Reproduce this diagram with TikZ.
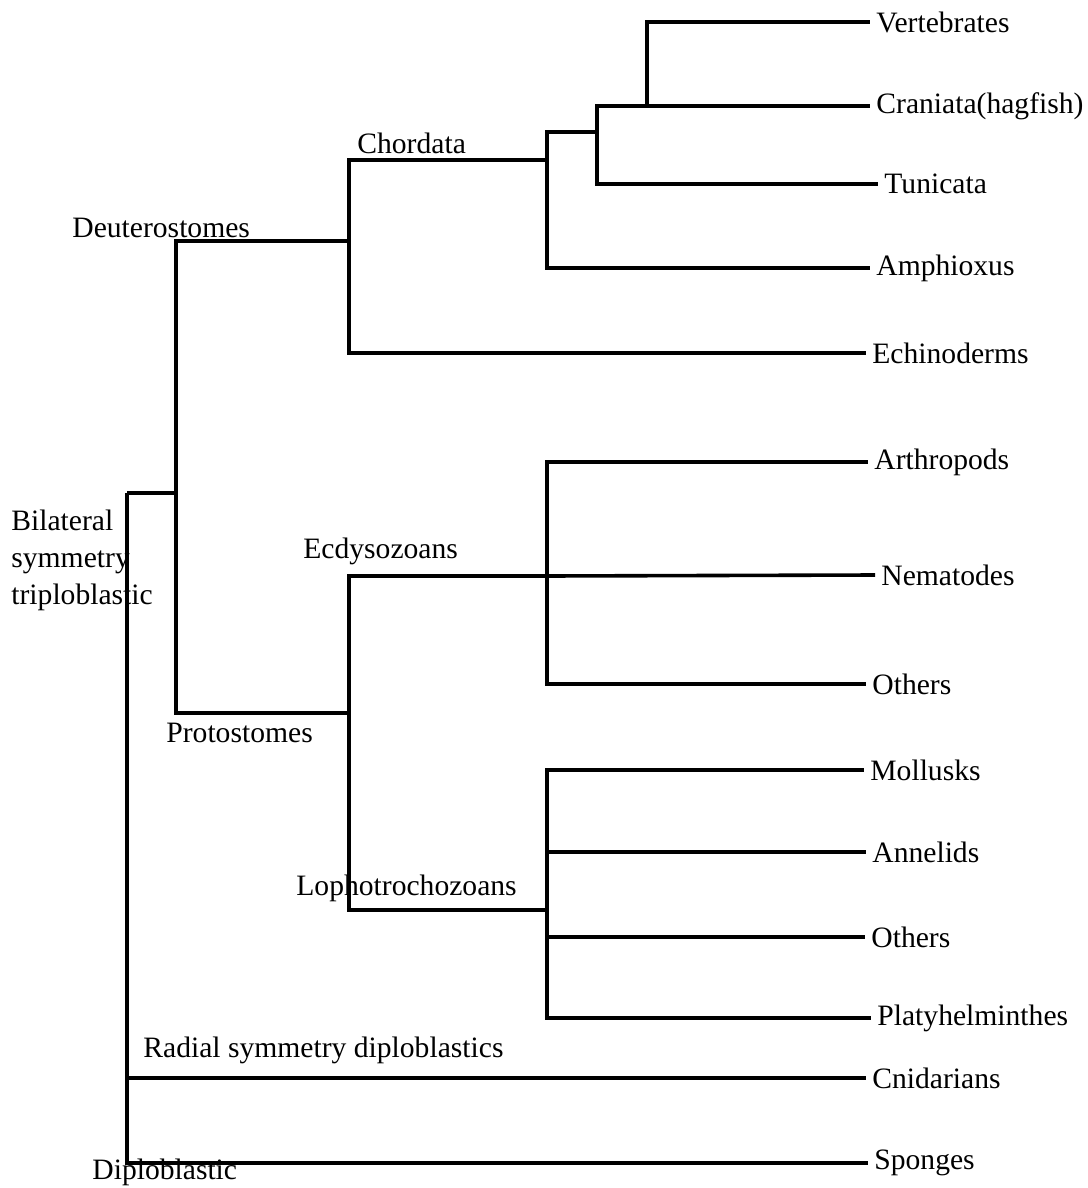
\documentclass[tikz,border=0pt]{standalone}
\usepackage{fontspec}
\setmainfont{Liberation Serif}
\usetikzlibrary{positioning}
\tikzset{
  branch/.style = {line width=1.8pt, line join=miter},
  leaf/.style = {anchor=west, inner ysep=0pt, inner xsep=3pt,
    font=\fontsize{14.8}{17}\selectfont},% feuille de l'arbre
  clade/.style = {anchor=west, inner sep=0pt,
    font=\fontsize{14.8}{18.5}\selectfont},% nom du clade
}

\begin{document}
\begin{tikzpicture}[x=0.5pt, y=-0.5pt]
\useasboundingbox (0,0) rectangle (1087,1188);
% branching points
\coordinate (root) at (127,493);
\coordinate (bil) at (176,493);
\coordinate (deu) at (349,241);
\coordinate (cho) at (547,160);
\coordinate (olf) at (597,132);
\coordinate (cra) at (647,104);
\coordinate (pro) at (349,713);
\coordinate (ecd) at (547,576);
\coordinate (lop) at (547,910);

% leaves
\node [leaf] (ver) at (870,22) {Vertebrates};
\node [leaf] (cran) at (870,106) {Craniata(hagfish)};
\node [leaf] (tun) at (878,184) {Tunicata};
\node [leaf] (amp) at (870,268) {Amphioxus};
\node [leaf] (ech) at (866,353) {Echinoderms};
\node [leaf] (art) at (868,462) {Arthropods};
\node [leaf] (nem) at (875,575) {Nematodes};
\node [leaf] (oth1) at (866,684) {Others};
\node [leaf] (mol) at (864,770) {Mollusks};
\node [leaf] (ann) at (866,852) {Annelids};
\node [leaf] (oth2) at (865,937) {Others};
\node [leaf] (pla) at (871,1018) {Platyhelminthes};
\node [leaf] (cni) at (866,1078) {Cnidarians};
\node [leaf] (spo) at (868,1163) {Sponges};

% clade names
\node [clade] (chordata) at (357,143) {Chordata};
\node [clade] (deutero) at (72,228) {Deuterostomes};
\node [clade] (ecdyso) at (303,551) {Ecdysozoans};
\node [clade] (proto) at (166,733) {Protostomes};
\node [clade] (lopho) at (296,888) {Lophotrochozoans};
\node [clade, align=left, anchor=north west] (bilat) at (11,510)
  {Bilateral\\symmetry\\triploblastic};
\node [clade] (radial) at (143,1050) {Radial symmetry diploblastics};
\node [clade] (diplo) at (92,1172) {Diploblastic};

% branches
\draw [branch] (cra) |- (ver.west);
\draw [branch] (olf) |- (cran.west);
\draw [branch] (olf) |- (tun.west);
\draw [branch] (cho) |- (olf);
\draw [branch] (cho) |- (amp.west);
\draw [branch] (deu) |- (cho);
\draw [branch] (deu) |- (ech.west);
\draw [branch] (bil) |- (deu);
\draw [branch] (bil) |- (pro);
\draw [branch] (ecd) |- (art.west);
\draw [branch] (ecd) -- (nem.west);
\draw [branch] (ecd) |- (oth1.west);
\draw [branch] (pro) |- (ecd);
\draw [branch] (pro) |- (lop);
\draw [branch] (lop) |- (mol.west);
\draw [branch] (lop) |- (ann.west);
\draw [branch] (lop) |- (oth2.west);
\draw [branch] (lop) |- (pla.west);
\draw [branch] (root) -- (bil);
\draw [branch] (root) |- (cni.west);
\draw [branch] (root) |- (spo.west);
\end{tikzpicture}
\end{document}
